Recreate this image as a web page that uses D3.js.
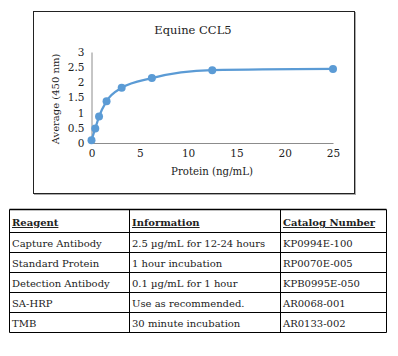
<!DOCTYPE html>
<html>
<head>
<meta charset="utf-8">
<script src="https://cdn.jsdelivr.net/npm/d3@7/dist/d3.min.js"></script>
<style>
  html, body { margin: 0; padding: 0; background: #fff; }
  svg { display: block; }
  svg text { font-family: "DejaVu Serif", serif !important; fill: #222; }
</style>
</head>
<body>
<svg id="chart" width="398" height="356"></svg>
<script>
const title = "Equine CCL5";
const xLabel = "Protein (ng/mL)";
const yLabel = "Average (450 nm)";
const concentration = [0, 0.39, 0.78, 1.56, 3.125, 6.25, 12.5, 25];
const absorbance = [0.09, 0.48, 0.87, 1.38, 1.82, 2.14, 2.40, 2.44];
const xTicks = [0, 5, 10, 15, 20, 25];
const yTicks = [0, 0.5, 1, 1.5, 2, 2.5, 3];

const tableHeaders = ["Reagent", "Information", "Catalog Number"];
const reagents = ["Capture Antibody", "Standard Protein", "Detection Antibody", "SA-HRP", "TMB"];
const information = ["2.5 µg/mL for 12-24 hours", "1 hour incubation", "0.1 µg/mL for 1 hour", "Use as recommended.", "30 minute incubation"];
const catalogNumbers = ["KP0994E-100", "RP0070E-005", "KPB0995E-050", "AR0068-001", "AR0133-002"];

const svg = d3.select("#chart");

// chart frame
svg.append("rect").attr("x", 34.5).attr("y", 12.5).attr("width", 321).attr("height", 182)
  .attr("fill", "none").attr("stroke", "#aaa");
svg.append("rect").attr("x", 33.5).attr("y", 11.5).attr("width", 321).attr("height", 182)
  .attr("fill", "#fff").attr("stroke", "#222");

const x = d3.scaleLinear().domain([0, 25]).range([91.5, 333]);
const y = d3.scaleLinear().domain([0, 3]).range([143, 52]);

const xAxis = svg.append("g").attr("transform", `translate(0,${y(0)})`)
  .call(d3.axisBottom(x).tickValues(xTicks).tickSize(0).tickPadding(7).tickFormat(d3.format("")));
xAxis.select(".domain").attr("stroke", "#8c8c8c");
xAxis.selectAll("text").attr("font-size", 10.5).attr("fill", "#333");

const yAxis = svg.append("g").attr("transform", `translate(${x(0)},0)`)
  .call(d3.axisLeft(y).tickValues(yTicks).tickSize(0).tickPadding(7).tickFormat(d3.format("")));
yAxis.select(".domain").attr("stroke", "#8c8c8c");
yAxis.selectAll("text").attr("font-size", 10.5).attr("fill", "#333");

svg.append("text").attr("x", 193).attr("y", 34).attr("text-anchor", "middle")
  .attr("font-size", 11.5).text(title);
svg.append("text").attr("x", 212).attr("y", 175).attr("text-anchor", "middle")
  .attr("font-size", 10.2).text(xLabel);
svg.append("text").attr("transform", "translate(59,99) rotate(-90)").attr("text-anchor", "middle")
  .attr("font-size", 10).text(yLabel);

const pts = concentration.map((c, i) => [c, absorbance[i]]);
const line = d3.line().x(d => x(d[0])).y(d => y(d[1])).curve(d3.curveMonotoneX);
svg.append("path").datum(pts).attr("d", line).attr("fill", "none")
  .attr("stroke", "#5b9bd5").attr("stroke-width", 2.25);
svg.selectAll("circle.pt").data(pts).enter().append("circle").attr("class", "pt")
  .attr("cx", d => x(d[0])).attr("cy", d => y(d[1])).attr("r", 4)
  .attr("fill", "#5b9bd5");

// table
const colX = [9.5, 129.5, 280.5, 386.5];
const rowY = [209.5, 232.5, 252.5, 272.5, 292.5, 312.5, 332.5];
const tg = svg.append("g");
rowY.forEach(r => tg.append("line").attr("x1", colX[0]).attr("x2", colX[3]).attr("y1", r).attr("y2", r)
  .attr("stroke", "#000").attr("stroke-width", r === 209.5 ? 1.5 : 1));
colX.forEach(c => tg.append("line").attr("x1", c).attr("x2", c).attr("y1", rowY[0]).attr("y2", rowY[6])
  .attr("stroke", "#000"));

const columns = [reagents, information, catalogNumbers];
tableHeaders.forEach((h, j) => {
  tg.append("text").attr("x", colX[j] + 2.5).attr("y", 226).attr("font-size", 10)
    .attr("font-weight", "bold").attr("text-decoration", "underline").attr("fill", "#111").text(h);
});
columns.forEach((col, j) => {
  col.forEach((v, i) => {
    tg.append("text").attr("x", colX[j] + 2.5).attr("y", (rowY[i + 1] + rowY[i + 2]) / 2 + 4)
      .attr("font-size", 10).attr("fill", "#111").text(v);
  });
});
</script>
</body>
</html>
